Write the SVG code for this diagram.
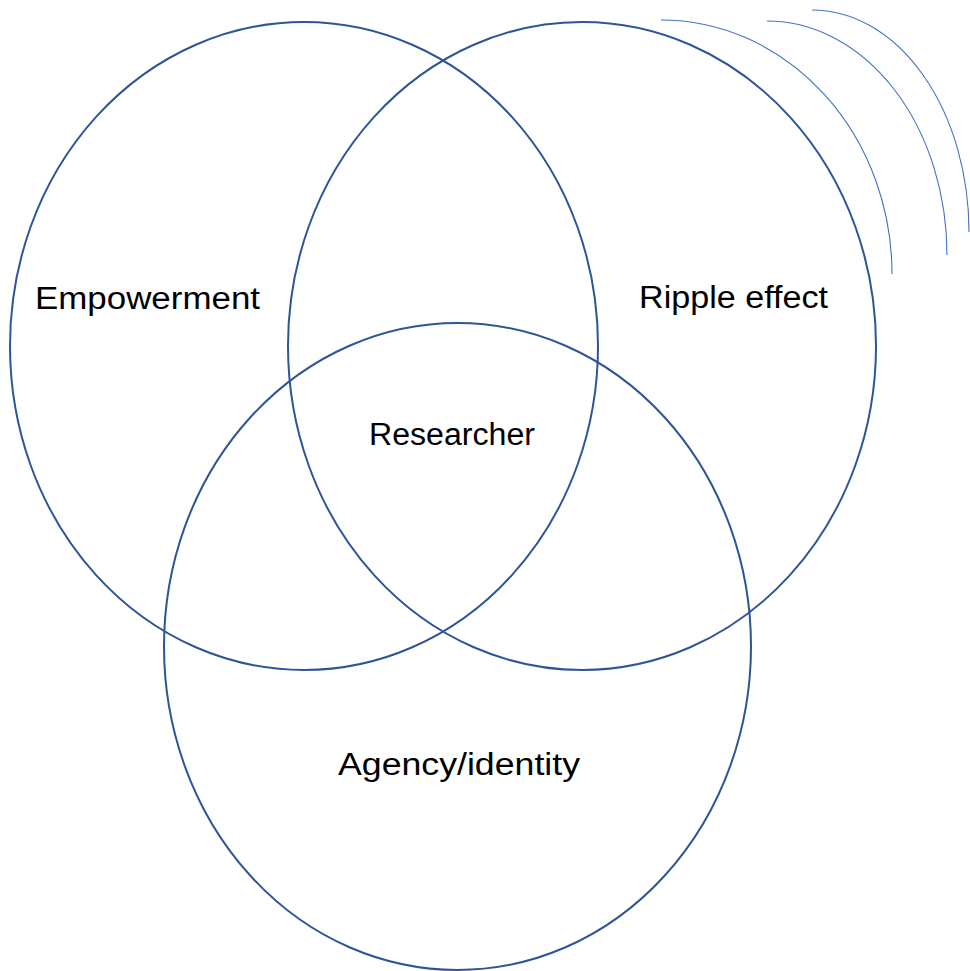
<svg xmlns="http://www.w3.org/2000/svg" width="970" height="971" viewBox="0 0 970 971">
  <style>
    .ring { fill: none; stroke: #2F5597; stroke-width: 2; }
    .wave { fill: none; stroke: #4472C4; stroke-width: 1.1; }
    .label { font-family: "Liberation Sans", Arial, sans-serif; font-size: 31px; fill: #000; }
  </style>
  <rect width="970" height="971" fill="#fff"/>
  <g id="empowerment">
    <ellipse class="ring" cx="304" cy="346" rx="294" ry="324"/>
    <text class="label" x="35" y="309" textLength="225" lengthAdjust="spacingAndGlyphs">Empowerment</text>
  </g>
  <g id="ripple-effect">
    <ellipse class="ring" cx="582" cy="346" rx="294" ry="324"/>
    <text class="label" x="639" y="308" textLength="189" lengthAdjust="spacingAndGlyphs">Ripple effect</text>
  </g>
  <g id="agency-identity">
    <ellipse class="ring" cx="457.5" cy="646.5" rx="293.5" ry="323.5"/>
    <text class="label" x="338" y="775" textLength="242" lengthAdjust="spacingAndGlyphs">Agency/identity</text>
  </g>
  <g id="researcher">
    <text class="label" x="369" y="445" textLength="166" lengthAdjust="spacingAndGlyphs">Researcher</text>
  </g>
  <g id="ripples">
    <path class="wave" d="M661 20 A231 254 0 0 1 892 274"/>
    <path class="wave" d="M767 21 A180 234 0 0 1 947 255"/>
    <path class="wave" d="M812 10 A157 222 0 0 1 969 232"/>
  </g>
</svg>
